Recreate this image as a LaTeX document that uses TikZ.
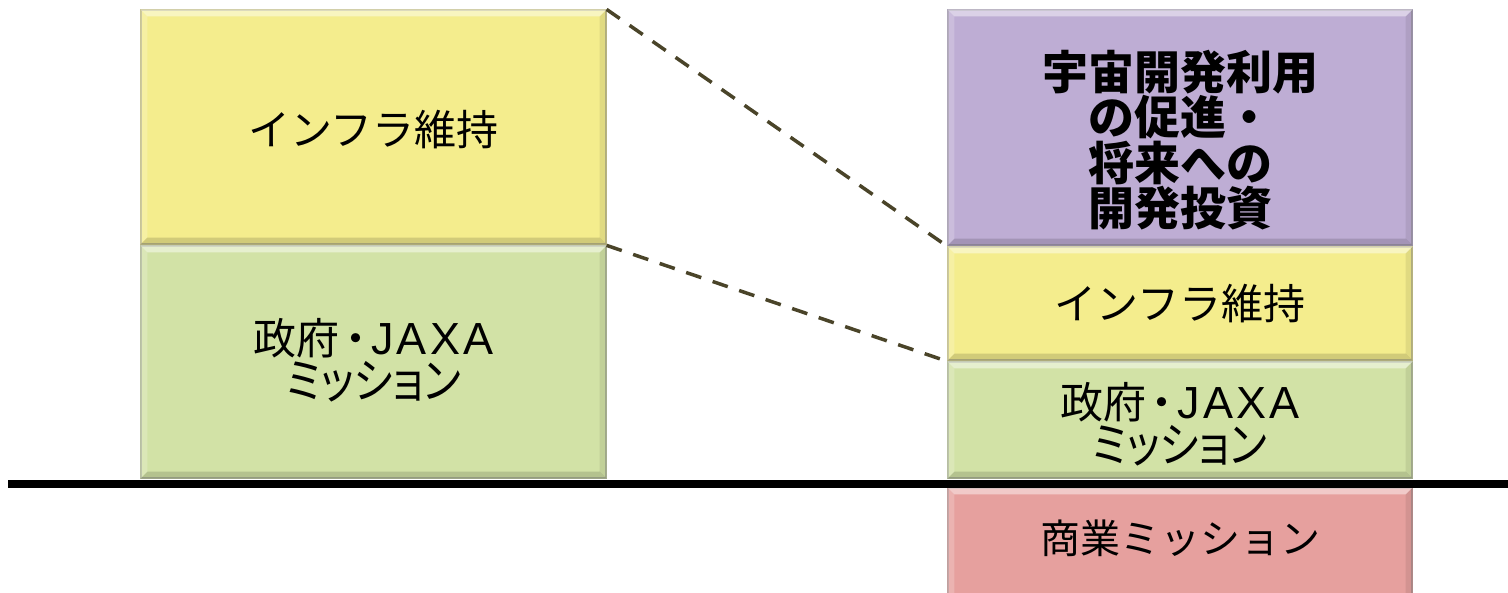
\documentclass[tikz,border=0pt]{standalone}
\usepackage{fontspec}
\newfontfamily\jp{Noto Sans CJK JP}
\newfontfamily\jpp[RawFeature=+palt]{Noto Sans CJK JP}
\newfontfamily\latn[LetterSpace=7]{Liberation Sans}
\usetikzlibrary{calc}
\definecolor{cyel}{HTML}{F4ED8D}
\definecolor{cgrn}{HTML}{D2E2A6}
\definecolor{cpur}{HTML}{BEADD4}
\definecolor{cred}{HTML}{E6A09E}
\definecolor{cdash}{HTML}{4A4429}
\tikzset{
  box/.style={draw=#1!55!gray, line width=1.2pt, fill=#1, inner sep=0pt},
  lbl/.style={inner sep=0pt, align=center, text=black},
  mapline/.style={cdash, line width=3.5pt, dash pattern=on 16pt off 12pt},
  ground/.style={black, line width=8pt}
}
\newcommand\bevelbox[1]{%
  \fill[white,opacity=0.45] (#1.north west) -- (#1.north east) -- ($(#1.north east)+(-7,7)$) -- ($(#1.north west)+(7,7)$) -- cycle;
  \fill[white,opacity=0.2] (#1.north west) -- ($(#1.north west)+(7,7)$) -- ($(#1.south west)+(7,-7)$) -- (#1.south west) -- cycle;
  \fill[black,opacity=0.14] (#1.south west) -- (#1.south east) -- ($(#1.south east)+(-7,-7)$) -- ($(#1.south west)+(7,-7)$) -- cycle;
  \fill[black,opacity=0.08] (#1.north east) -- ($(#1.north east)+(-7,7)$) -- ($(#1.south east)+(-7,-7)$) -- (#1.south east) -- cycle;
}
\newcommand\govtext{%
  {\jpp\fontsize{43}{46}\selectfont 政府\hspace{5pt}・\hspace{5pt}{\latn\fontsize{45}{46}\selectfont JAXA}}\\[2pt]
  {\jpp\fontsize{42}{46}\selectfont\scalebox{1}[1.15]{ミッション}}}
\begin{document}
\begin{tikzpicture}[x=1pt,y=-1pt]
\useasboundingbox (0,0) rectangle (1508,593);
\clip (0,0) rectangle (1508,593);
% left column
\node[box=cyel, minimum width=465pt, minimum height=234pt] (LY) at (373.5,127) {};
\node[box=cgrn, minimum width=465pt, minimum height=232pt] (LG) at (373.5,362) {};
% right column
\node[box=cpur, minimum width=464pt, minimum height=235pt] (RP) at (1180,127.5) {};
\node[box=cyel, minimum width=464pt, minimum height=113pt] (RY) at (1180,303.5) {};
\node[box=cgrn, minimum width=464pt, minimum height=116pt] (RG) at (1180,420) {};
\node[box=cred, minimum width=464pt, minimum height=112pt] (RR) at (1180,544) {};
\foreach \n in {LY,LG,RP,RY,RG,RR} {\bevelbox{\n}}
% labels
\node[lbl, font=\jp\fontsize{42}{46}\selectfont] (LYt) at (373.5,130) {インフラ維持};
\node[lbl] (LGt) at (373.5,360) {\govtext};
\node[lbl, font=\jp\bfseries\fontsize{46}{45.5}\selectfont] (RPt) at (1180,140) {宇宙開発利用\\の促進・\\将来への\\開発投資};
\node[lbl, font=\jp\fontsize{42}{46}\selectfont] (RYt) at (1180,303.5) {インフラ維持};
\node[lbl] (RGt) at (1180,424) {\govtext};
\node[lbl, font=\jp\fontsize{40}{46}\selectfont] (RRt) at (1180,538) {商業ミッション};
% ground line
\coordinate (G1) at (8,484);
\coordinate (G2) at (1508,484);
\draw[ground] (G1) -- (G2);
% mapping lines
\draw[mapline] (LY.north east) -- (RY.north west);
\draw[mapline] (LG.north east) -- (RG.north west);
\end{tikzpicture}
\end{document}
